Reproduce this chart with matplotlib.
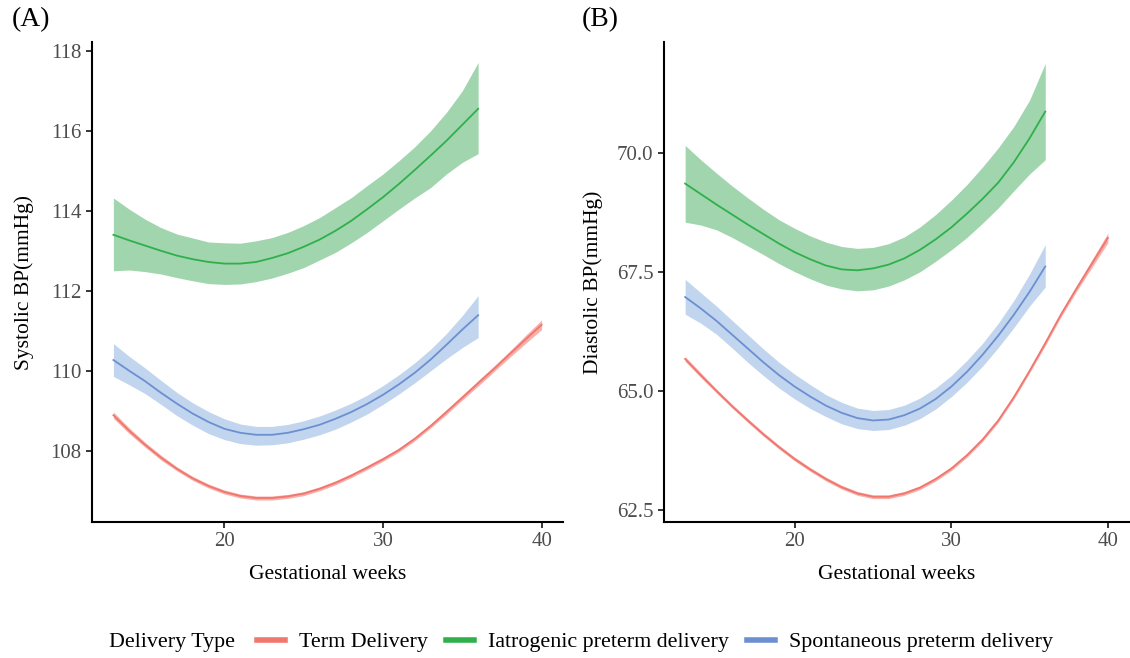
import numpy as np
import matplotlib.pyplot as plt
from matplotlib.lines import Line2D

plt.rcParams["font.family"] = ["Liberation Serif", "DejaVu Serif"]

# gestational weeks
wk_pre = list(range(13, 37))
wk_term = list(range(13, 41))

# (A) systolic BP
sys_term = [108.89, 108.50, 108.15, 107.83, 107.55, 107.31, 107.12, 106.97,
            106.87, 106.82, 106.82, 106.86, 106.93, 107.05, 107.20, 107.38,
            107.58, 107.79, 108.02, 108.30, 108.62, 108.97, 109.33, 109.69,
            110.05, 110.42, 110.79, 111.15]
sys_term_hw = [0.08, 0.07, 0.06, 0.06, 0.05, 0.05, 0.05, 0.05, 0.05, 0.05,
               0.05, 0.05, 0.05, 0.05, 0.05, 0.05, 0.05, 0.05, 0.05, 0.05,
               0.05, 0.06, 0.06, 0.07, 0.07, 0.08, 0.10, 0.12]
sys_iat = [113.40, 113.26, 113.13, 113.00, 112.88, 112.79, 112.72, 112.68,
           112.68, 112.72, 112.82, 112.94, 113.10, 113.28, 113.50, 113.75,
           114.04, 114.34, 114.67, 115.02, 115.38, 115.75, 116.15, 116.55]
sys_iat_lo = [112.50, 112.52, 112.48, 112.42, 112.33, 112.25, 112.18, 112.16,
              112.17, 112.23, 112.32, 112.44, 112.58, 112.77, 112.96, 113.20,
              113.46, 113.75, 114.04, 114.32, 114.58, 114.92, 115.21, 115.43]
sys_iat_hi = [114.32, 114.04, 113.79, 113.58, 113.42, 113.32, 113.22, 113.20,
              113.19, 113.25, 113.33, 113.46, 113.63, 113.83, 114.08, 114.33,
              114.63, 114.92, 115.25, 115.60, 116.00, 116.46, 117.00, 117.71]
sys_spo = [110.27, 110.00, 109.74, 109.45, 109.18, 108.93, 108.72, 108.55,
           108.45, 108.40, 108.40, 108.45, 108.54, 108.65, 108.80, 108.97,
           109.17, 109.40, 109.66, 109.95, 110.28, 110.65, 111.03, 111.39]
sys_spo_lo = [109.86, 109.65, 109.43, 109.16, 108.88, 108.64, 108.43, 108.28,
              108.18, 108.14, 108.15, 108.20, 108.29, 108.40, 108.54, 108.72,
              108.92, 109.16, 109.42, 109.70, 110.00, 110.30, 110.58, 110.83]
sys_spo_hi = [110.68, 110.36, 110.07, 109.76, 109.46, 109.20, 108.98, 108.80,
              108.67, 108.61, 108.61, 108.66, 108.75, 108.87, 109.02, 109.19,
              109.39, 109.63, 109.90, 110.20, 110.54, 110.93, 111.38, 111.88]

# (B) diastolic BP
dia_term = [65.67, 65.33, 65.00, 64.68, 64.38, 64.09, 63.82, 63.57,
            63.35, 63.15, 62.98, 62.85, 62.78, 62.78, 62.85, 62.97,
            63.15, 63.37, 63.65, 63.98, 64.38, 64.87, 65.42, 66.00,
            66.60, 67.15, 67.68, 68.21]
dia_term_hw = [0.05, 0.05, 0.04, 0.04, 0.04, 0.04, 0.04, 0.04, 0.04, 0.04,
               0.04, 0.04, 0.04, 0.04, 0.04, 0.04, 0.04, 0.04, 0.04, 0.04,
               0.04, 0.04, 0.04, 0.05, 0.05, 0.06, 0.08, 0.10]
dia_iat = [69.35, 69.13, 68.91, 68.70, 68.49, 68.29, 68.09, 67.91,
           67.76, 67.63, 67.55, 67.53, 67.57, 67.65, 67.78, 67.96,
           68.18, 68.43, 68.72, 69.03, 69.37, 69.80, 70.30, 70.86]
dia_iat_lo = [68.54, 68.48, 68.38, 68.22, 68.04, 67.86, 67.67, 67.50,
              67.35, 67.22, 67.14, 67.10, 67.12, 67.20, 67.33, 67.50,
              67.72, 67.96, 68.22, 68.52, 68.84, 69.20, 69.55, 69.85]
dia_iat_hi = [70.15, 69.85, 69.57, 69.30, 69.05, 68.81, 68.59, 68.41,
              68.25, 68.12, 68.03, 67.99, 68.01, 68.09, 68.23, 68.44,
              68.70, 69.00, 69.33, 69.70, 70.10, 70.55, 71.10, 71.87]
dia_spo = [66.97, 66.73, 66.47, 66.18, 65.89, 65.60, 65.33, 65.09,
           64.88, 64.69, 64.54, 64.43, 64.38, 64.40, 64.49, 64.63,
           64.83, 65.09, 65.40, 65.76, 66.16, 66.60, 67.08, 67.61]
dia_spo_lo = [66.61, 66.42, 66.19, 65.90, 65.60, 65.32, 65.06, 64.83,
              64.63, 64.46, 64.31, 64.21, 64.17, 64.19, 64.28, 64.42,
              64.62, 64.88, 65.18, 65.52, 65.91, 66.33, 66.78, 67.18]
dia_spo_hi = [67.34, 67.06, 66.78, 66.48, 66.18, 65.88, 65.60, 65.35,
              65.13, 64.92, 64.76, 64.64, 64.59, 64.61, 64.70, 64.85,
              65.06, 65.32, 65.64, 66.00, 66.42, 66.90, 67.45, 68.07]

labels = ["Term Delivery", "Iatrogenic preterm delivery", "Spontaneous preterm delivery"]
line_cols = ["#F0766E", "#2EB04A", "#6B8FD1"]
fill_cols = ["#F7B0AA", "#A1D5AE", "#C2D5EE"]

W, H = 1130, 658
fig = plt.figure(figsize=(W / 100, H / 100), dpi=100)


def box(l, r, t, b):
    return [l / W, 1 - b / H, (r - l) / W, (b - t) / H]


axA = fig.add_axes(box(92, 563, 42, 522))
axB = fig.add_axes(box(664, 1129, 42, 522))


def draw(ax, term, term_hw, iat, iat_lo, iat_hi, spo, spo_lo, spo_hi):
    t = np.array(term)
    hw = np.array(term_hw)
    ax.fill_between(wk_term, t - hw, t + hw, color=fill_cols[0], lw=0)
    ax.fill_between(wk_pre, iat_lo, iat_hi, color=fill_cols[1], lw=0)
    ax.fill_between(wk_pre, spo_lo, spo_hi, color=fill_cols[2], lw=0)
    ax.plot(wk_term, term, color=line_cols[0], lw=1.3)
    ax.plot(wk_pre, iat, color=line_cols[1], lw=1.3)
    ax.plot(wk_pre, spo, color=line_cols[2], lw=1.3)
    ax.set_xlim(11.65, 41.35)
    ax.set_xticks([20, 30, 40])
    for s in ["top", "right"]:
        ax.spines[s].set_visible(False)
    for s in ["left", "bottom"]:
        ax.spines[s].set_linewidth(1.5)
    ax.tick_params(length=4, width=1.1, labelsize=15, labelcolor="#4D4D4D")
    ax.set_xlabel("Gestational weeks", fontsize=15.5, labelpad=10)


draw(axA, sys_term, sys_term_hw, sys_iat, sys_iat_lo, sys_iat_hi,
     sys_spo, sys_spo_lo, sys_spo_hi)
axA.set_ylim(106.22, 118.22)
axA.set_yticks([108, 110, 112, 114, 116, 118])
axA.set_ylabel("Systolic BP(mmHg)", fontsize=15.5, labelpad=12)

draw(axB, dia_term, dia_term_hw, dia_iat, dia_iat_lo, dia_iat_hi,
     dia_spo, dia_spo_lo, dia_spo_hi)
axB.set_ylim(62.25, 72.32)
axB.set_yticks([62.5, 65.0, 67.5, 70.0])
axB.set_yticklabels(["62.5", "65.0", "67.5", "70.0"])
axB.set_ylabel("Diastolic BP(mmHg)", fontsize=15.5, labelpad=10)

fig.text(12 / W, 1 - 20 / H, "(A)", fontsize=20, va="center", ha="left")
fig.text(582 / W, 1 - 20 / H, "(B)", fontsize=20, va="center", ha="left")

fig.text(109 / W, 1 - 642 / H, "Delivery Type", fontsize=15.8, va="center", ha="left")
handles = [Line2D([0], [0], color=c, lw=4) for c in line_cols]
fig.legend(handles, labels, loc="center left", bbox_to_anchor=(257 / W, 1 - 642 / H),
           ncol=3, frameon=False, fontsize=15.8, handlelength=1.28,
           columnspacing=0.82, handletextpad=0.64, borderaxespad=0,
           borderpad=0)

fig.savefig("out.png", dpi=100)
